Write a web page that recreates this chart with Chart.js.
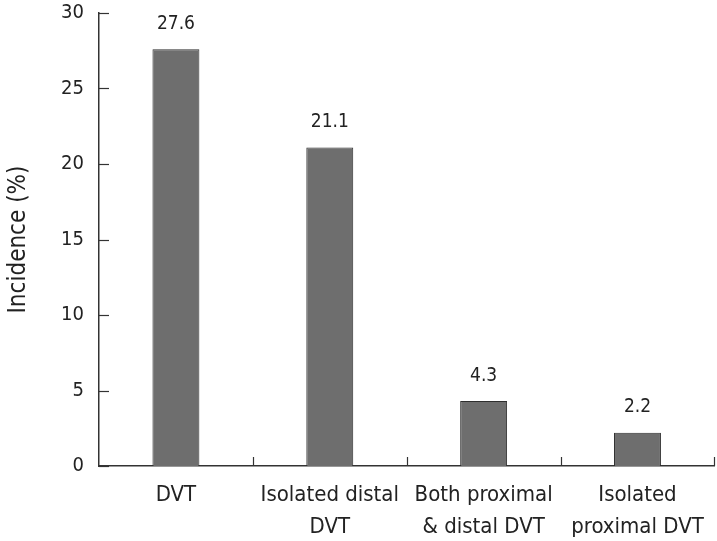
<!DOCTYPE html>
<html>
<head>
<meta charset="utf-8">
<script src="https://cdn.jsdelivr.net/npm/chart.js@4"></script>
<style>
  html, body { margin: 0; padding: 0; background: #fff; }
  #wrap { width: 717px; height: 541px; position: relative; }
</style>
</head>
<body>
<div id="wrap"><canvas id="chart"></canvas></div>
<script>
const categories = [['DVT'], ['Isolated distal', 'DVT'], ['Both proximal', '& distal DVT'], ['Isolated', 'proximal DVT']];
const incidence = [27.6, 21.1, 4.3, 2.2];
const valueLabels = ['27.6', '21.1', '4.3', '2.2'];
const yTicks = [0, 5, 10, 15, 20, 25, 30];

const FONT = '"Liberation Sans Narrow", "DejaVu Sans Condensed", sans-serif';
const AXIS = '#333';

// short tick marks drawn inside the plot, like the original figure
const innerTicks = {
    id: 'innerTicks',
    afterDraw(chart) {
        let ctx = chart.ctx;
        let x = chart.scales.x;
        let y = chart.scales.y;
        let step = x.getPixelForValue(1) - x.getPixelForValue(0);
        ctx.save();
        ctx.strokeStyle = AXIS;
        ctx.lineWidth = 1.2;
        yTicks.forEach(v => {
            let py = Math.round(y.getPixelForValue(v)) + 0.5;
            ctx.beginPath();
            ctx.moveTo(x.left, py);
            ctx.lineTo(x.left + 10, py);
            ctx.stroke();
        });
        for (let i = 0; i < categories.length; i++) {
            let px = Math.round(x.getPixelForValue(i) + step / 2) + 0.5;
            ctx.beginPath();
            ctx.moveTo(px, y.bottom);
            ctx.lineTo(px, y.bottom - 9);
            ctx.stroke();
        }
        ctx.restore();
    }
};

const barValues = {
    id: 'barValues',
    afterDatasetsDraw(chart) {
        let ctx = chart.ctx;
        let meta = chart.getDatasetMeta(0);
        ctx.save();
        ctx.fillStyle = '#222';
        ctx.font = '19px ' + FONT;
        ctx.textAlign = 'center';
        ctx.textBaseline = 'bottom';
        meta.data.forEach((bar, i) => {
            ctx.fillText(valueLabels[i], bar.x, bar.y - 16);
        });
        ctx.restore();
    }
};

new Chart(document.getElementById('chart'), {
    type: 'bar',
    data: {
        labels: categories,
        datasets: [{
            data: incidence,
            backgroundColor: '#6e6e6e',
            borderColor: '#2e2e2e',
            borderWidth: 1,
            categoryPercentage: 1,
            barPercentage: 0.305
        }]
    },
    options: {
        responsive: true,
        maintainAspectRatio: false,
        animation: false,
        layout: { padding: { top: 13, right: 2, left: 0, bottom: 0 } },
        plugins: {
            legend: { display: false },
            tooltip: { enabled: false }
        },
        scales: {
            x: {
                grid: { display: false, drawTicks: false },
                border: { color: AXIS, width: 1.5 },
                ticks: {
                    color: '#222',
                    font: { family: FONT, size: 22, lineHeight: 1.45 },
                    padding: 13,
                    maxRotation: 0,
                    autoSkip: false
                },
                afterFit(scale) { scale.height = 75; }
            },
            y: {
                min: 0,
                max: 30,
                grid: { display: false, drawTicks: false },
                border: { color: AXIS, width: 1.5 },
                ticks: {
                    stepSize: 5,
                    color: '#222',
                    font: { family: FONT, size: 20 },
                    padding: 15
                },
                title: {
                    display: true,
                    text: 'Incidence (%)',
                    color: '#222',
                    font: { family: FONT, size: 24 },
                    padding: { top: 4, bottom: 0 }
                },
                afterFit(scale) {
                    scale.width = 99;
                    scale.paddingTop = 0;
                    scale.paddingBottom = 0;
                }
            }
        }
    },
    plugins: [innerTicks, barValues]
});
</script>
</body>
</html>
